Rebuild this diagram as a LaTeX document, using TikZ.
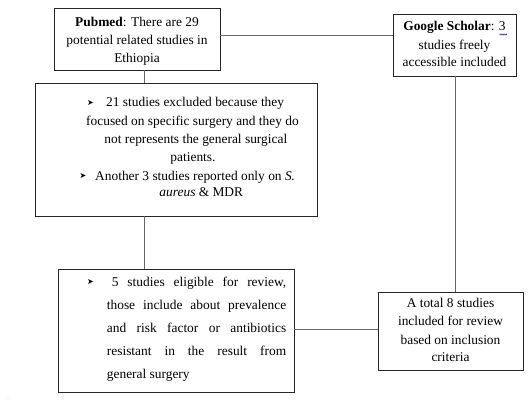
\documentclass[tikz,border=0pt]{standalone}
\usepackage{fontspec}
\setmainfont{Liberation Serif}
\newfontfamily\bulfont{DejaVu Sans}
\usetikzlibrary{decorations.pathmorphing}
\begin{document}
\begin{tikzpicture}[x=1pt,y=-1pt,
  box/.style={draw=black!85, line width=0.8pt, rectangle, inner sep=0pt},
  conn/.style={draw=black!60, line width=0.8pt},
  txt/.style={inner sep=0pt, anchor=base, font=\fontsize{13.4}{16}\selectfont},
  txtl/.style={txt, anchor=base west},
  bul/.style={inner sep=0pt, anchor=base west, font=\bulfont\fontsize{8}{9}\selectfont}]
\useasboundingbox (0,0) rectangle (532,402);

% boxes
\node[box, minimum width=166pt, minimum height=62pt] (pub) at (137,39) {};
\node[box, minimum width=123pt, minimum height=62pt] (goo) at (454.5,45) {};
\node[box, minimum width=282pt, minimum height=133pt] (exc) at (176,149.5) {};
\node[box, minimum width=236pt, minimum height=123pt] (eli) at (176,330.5) {};
\node[box, minimum width=145pt, minimum height=78pt] (res) at (450.5,331) {};

% connectors
\coordinate (h1) at (0,35);
\coordinate (h2) at (0,329.3);
\coordinate (v1) at (144,0);
\coordinate (v2) at (455.5,0);
\draw[conn] (pub.east |- h1) -- (goo.west |- h1);
\draw[conn] (pub.south -| v1) -- (exc.north -| v1);
\draw[conn] (exc.south -| v1) -- (eli.north -| v1);
\draw[conn] (goo.south -| v2) -- (res.north -| v2);
\draw[conn] (eli.east |- h2) -- (res.west |- h2);

% Pubmed text
\node[txt] (p1) at (137,26.5) {\textbf{Pubmed}: There are 29};
\node[txt] (p2) at (137,44.8) {potential related studies in};
\node[txt] (p3) at (137,62.7) {Ethiopia};

% Google Scholar text
\node[txt] (g1) at (454.5,30.7) {\textbf{Google Scholar}: 3};
\node[txt] (g2) at (454.5,49.3) {studies freely};
\node[txt] (g3) at (454.5,66.7) {accessible included};
\draw[blue!70!black, line width=0.5pt, decorate, decoration={snake,amplitude=0.6pt,segment length=2pt}] (499.5,34.5) -- (507,34.5);

% Excluded text
\node[bul] (xb1) at (86.8,105.5) {➤};
\node[txtl] (x1) at (106,106.7) {21 studies excluded because they};
\node[txt] (x2) at (192.5,125) {focused on specific surgery and they do};
\node[txt] (x3) at (195.8,143.3) {not represents the general surgical};
\node[txt] (x4) at (193,161.7) {patients.};
\node[bul] (xb2) at (79.5,178.8) {➤};
\node[txtl] (x5) at (95,180) {Another 3 studies reported only on \textit{S.}};
\node[txt] (x6) at (201.3,196.7) {\textit{aureus} \& MDR};

% Eligible text
\node[bul] (eb) at (86.8,284.8) {➤};
\node[txtl] (e1) at (111.7,286) {\makebox[174.3pt][s]{5 studies eligible for review,}};
\node[txtl] (e2) at (106.7,309.3) {\makebox[179.3pt][s]{those include about prevalence}};
\node[txtl] (e3) at (106.7,332.7) {\makebox[179.3pt][s]{and risk factor or antibiotics}};
\node[txtl] (e4) at (106.7,355) {\makebox[179.3pt][s]{resistant in the result from}};
\node[txtl] (e5) at (106.7,378.3) {general surgery};

% Result text
\node[txt] (r1) at (450.5,307.3) {A total 8 studies};
\node[txt] (r2) at (450.5,325.7) {included for review};
\node[txt] (r3) at (450.5,344) {based on inclusion};
\node[txt] (r4) at (450.5,361.7) {criteria};

% stray dot
\node[inner sep=0pt, font=\fontsize{6}{6}\selectfont, text=black!40] (dot) at (8,399) {.};
\end{tikzpicture}
\end{document}
